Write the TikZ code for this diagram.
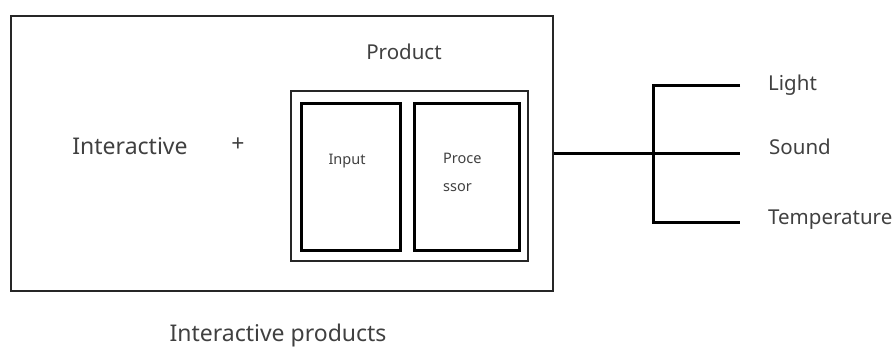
\documentclass[tikz,border=0pt]{standalone}
\usepackage{fontspec}
\setmainfont{Noto Sans}
\begin{document}
\begin{tikzpicture}[x=1pt,y=-1pt,
  frame/.style={draw=black!85,line width=1.6pt},
  part/.style={draw=black,line width=3pt},
  wire/.style={draw=black,line width=3pt},
  lbl/.style={text=black!75,inner sep=0pt},
  big/.style={lbl,font=\fontsize{23}{26}\selectfont},
  mid/.style={lbl,font=\fontsize{20.5}{24}\selectfont},
  small/.style={lbl,font=\fontsize{14.5}{17}\selectfont}]
\useasboundingbox (0,0) rectangle (896,349);
% outer frame and product frame
\node[frame,minimum width=542pt,minimum height=275pt,anchor=north west,inner sep=0pt] (outer) at (10,15) {};
\node[frame,minimum width=237pt,minimum height=170pt,anchor=north west,inner sep=0pt] (prod) at (290,90) {};
\node[part,minimum width=99pt,minimum height=147pt,anchor=north west,inner sep=0pt] (inp) at (300,102) {};
\node[part,minimum width=105pt,minimum height=147pt,anchor=north west,inner sep=0pt] (proc) at (413,102) {};
% labels
\node[mid] (ptitle) at (404,52) {Product};
\node[big] (inter) at (130,146) {Interactive};
\node[big] (plus) at (238,145) {+};
\node[small] (intext) at (347,161) {Input};
\node[small,anchor=west] (proc1) at (443,158) {Proce};
\node[small,anchor=west] (proc2) at (443,188) {ssor};
\node[big,anchor=base] (caption) at (278,341.5) {Interactive products};
% outputs
\node[mid,anchor=west] (light) at (768,85) {Light};
\node[mid,anchor=west] (sound) at (769,147) {Sound};
\node[mid,anchor=west] (temp) at (768,220) {Temperature};
\coordinate (j) at (653,153);
\coordinate (bt) at (653,85);
\coordinate (bb) at (653,222);
\coordinate (lt) at (740,85);
\coordinate (ls) at (740,153);
\coordinate (lb) at (740,222);
\draw[wire] (outer.east |- j) -- (ls);
\draw[wire] (lt) -- (bt) -- (bb) -- (lb);
\end{tikzpicture}
\end{document}
